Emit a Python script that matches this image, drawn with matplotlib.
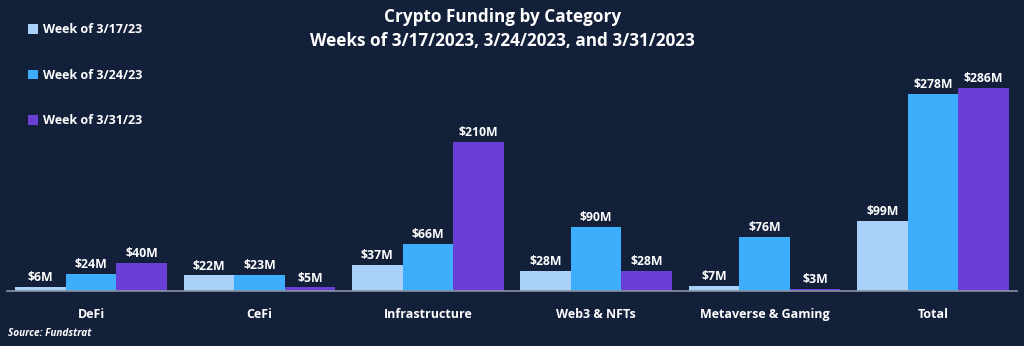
import numpy as np
import matplotlib.pyplot as plt
import matplotlib

categories = ['DeFi', 'CeFi', 'Infrastructure', 'Web3 & NFTs', 'Metaverse & Gaming', 'Total']
week1 = [6, 22, 37, 28, 7, 99]
week2 = [24, 23, 66, 90, 76, 278]
week3 = [40, 5, 210, 28, 3, 286]
weeks = ['Week of 3/17/23', 'Week of 3/24/23', 'Week of 3/31/23']

bg = '#13203a'
colors = ['#a8d0f8', '#3eaefc', '#6a3fd6']

matplotlib.rcParams['font.family'] = ['Open Sans', 'DejaVu Sans']

fig = plt.figure(figsize=(10.24, 3.46), dpi=100, facecolor=bg)
ax = fig.add_axes([7/1024, 1 - 291/346, 1010/1024, 213/346])
ax.set_facecolor(bg)

x = np.arange(len(categories))
w = 0.3
for k, (vals, c) in enumerate(zip([week1, week2, week3], colors)):
    bars = ax.bar(x + (k - 1) * w, vals, w, color=c, label=weeks[k])
    for b, v in zip(bars, vals):
        ax.text(b.get_x() + b.get_width() / 2, v + 4, '$%dM' % v, ha='center', va='bottom',
                color='white', fontsize=8.8, fontweight='bold')

ax.set_xlim(-0.5, 5.5)
ax.set_ylim(0, 300)
ax.set_yticks([])
ax.set_xticks(x)
ax.set_xticklabels(categories, color='white', fontsize=9, fontweight='bold')
ax.tick_params(axis='x', length=0, pad=12)
for s in ['top', 'right', 'left']:
    ax.spines[s].set_visible(False)
ax.spines['bottom'].set_color('#8a93a3')
ax.spines['bottom'].set_linewidth(1.2)

# legend drawn as stacked entries
leg = fig.legend(loc='upper left', bbox_to_anchor=(17/1024, 1 - 12/346), frameon=False,
                 labelspacing=2.6, handlelength=0.8, handleheight=0.8, handletextpad=0.4,
                 prop={'size': 9, 'weight': 'bold'})
for t in leg.get_texts():
    t.set_color('white')

fig.text(0.491, 1 - 17/346, 'Crypto Funding by Category', ha='center', va='center',
         color='white', fontsize=12.3, fontweight='bold')
fig.text(0.491, 1 - 41/346, 'Weeks of 3/17/2023, 3/24/2023, and 3/31/2023', ha='center', va='center',
         color='white', fontsize=12.3, fontweight='bold')
fig.text(8/1024, 1 - 333/346, 'Source: Fundstrat', ha='left', va='center',
         color='white', fontsize=7.2, fontweight='bold', style='italic')

fig.savefig('out.png', dpi=100, facecolor=bg)
